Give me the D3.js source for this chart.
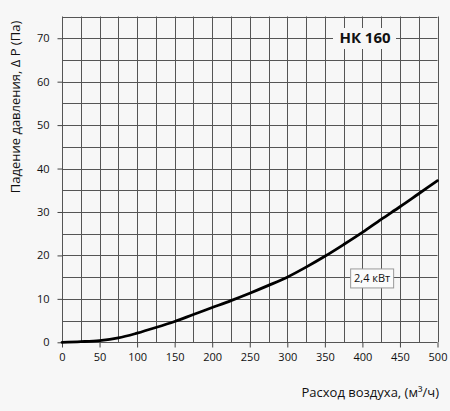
<!DOCTYPE html>
<html>
<head>
<meta charset="utf-8">
<script src="https://cdn.jsdelivr.net/npm/d3@7"></script>
<style>
  body { margin: 0; background: #f7f7f7; }
  text { font-family: "Open Sans", sans-serif; fill: #111; }
</style>
</head>
<body>
<div id="chart"></div>
<script>
// расход воздуха, м3/ч
const flow = [0, 25, 50, 75, 100, 125, 150, 175, 200, 225, 250, 275, 300, 325, 350, 375, 400, 425, 450, 475, 500];
// падение давления, Па
const dp = [0, 0.15, 0.4, 1.0, 2.1, 3.4, 4.8, 6.4, 8.0, 9.6, 11.3, 13.1, 15.0, 17.3, 19.8, 22.5, 25.3, 28.3, 31.2, 34.2, 37.2];
const xTicks = [0, 50, 100, 150, 200, 250, 300, 350, 400, 450, 500];
const yTicks = [0, 10, 20, 30, 40, 50, 60, 70];
const title = "НК 160";
const seriesLabel = "2,4 кВт";

const W = 450, H = 411;
const x = d3.scaleLinear().domain([0, 500]).range([62, 437.5]);
const y = d3.scaleLinear().domain([0, 75]).range([342.3, 16.5]);

const svg = d3.select("#chart").append("svg")
  .attr("width", W).attr("height", H);

svg.append("rect").attr("width", W).attr("height", H).attr("fill", "#f7f7f7");

// сетка
const grid = svg.append("g").attr("stroke", "#555").attr("stroke-width", 1);
grid.selectAll("line.v").data(d3.range(0, 501, 25)).enter().append("line")
  .attr("x1", d => Math.round(x(d)) + 0.5).attr("x2", d => Math.round(x(d)) + 0.5)
  .attr("y1", y(75)).attr("y2", y(0));
grid.selectAll("line.h").data(d3.range(0, 76, 5)).enter().append("line")
  .attr("y1", d => Math.round(y(d)) + 0.5).attr("y2", d => Math.round(y(d)) + 0.5)
  .attr("x1", x(0)).attr("x2", x(500));

// оси
const xAxis = d3.axisBottom(x).tickValues(xTicks).tickSize(5).tickPadding(6);
const gx = svg.append("g").attr("transform", `translate(0,${Math.round(y(0)) + 0.5})`).call(xAxis);
const yAxis = d3.axisLeft(y).tickValues(yTicks).tickSize(5).tickPadding(8);
const gy = svg.append("g").attr("transform", `translate(${Math.round(x(0)) + 0.5},0)`).call(yAxis);
[gx, gy].forEach(g => {
  g.select(".domain").remove();
  g.selectAll(".tick line").attr("stroke", "#444");
  g.selectAll(".tick text").attr("font-size", 11).attr("font-family", "Open Sans").attr("fill", "#111");
});

// кривая
svg.append("path")
  .datum(flow.map((f, i) => [f, dp[i]]))
  .attr("fill", "none").attr("stroke", "#000").attr("stroke-width", 2.8)
  .attr("stroke-linecap", "round")
  .attr("d", d3.line().x(d => x(d[0])).y(d => y(d[1])).curve(d3.curveMonotoneX));

// заголовок
const tg = svg.append("g");
tg.append("rect").attr("x", 333).attr("y", 28).attr("width", 63).attr("height", 21)
  .attr("fill", "#f7f7f7");
tg.append("text").attr("x", 365).attr("y", 43.3)
  .attr("text-anchor", "middle").attr("font-size", 15).attr("font-weight", "bold")
  .attr("font-family", "Liberation Sans, Arial, sans-serif")
  .text(title);

// подпись кривой
const lg = svg.append("g");
lg.append("rect").attr("x", x(385) - 0.5).attr("y", y(14.7) - 9.5).attr("width", 43).attr("height", 19)
  .attr("fill", "#fbfbfb").attr("stroke", "#999").attr("stroke-width", 1);
lg.append("text").attr("x", x(385) + 21).attr("y", y(14.7)).attr("dy", "0.35em")
  .attr("text-anchor", "middle").attr("font-size", 11).text(seriesLabel);

// подписи осей
svg.append("text").attr("x", 439).attr("y", 397).attr("text-anchor", "end")
  .attr("font-size", 13).text("Расход воздуха, (м³/ч)");
svg.append("text").attr("transform", "translate(20,107) rotate(-90)")
  .attr("text-anchor", "middle").attr("font-size", 13)
  .text("Падение давления, Δ P (Па)");
</script>
</body>
</html>
